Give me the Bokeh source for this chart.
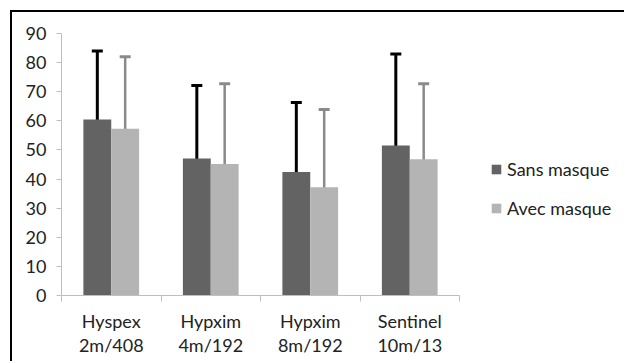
from bokeh.plotting import figure
from bokeh.models import (ColumnDataSource, Range1d, Whisker, Legend,
                          LegendItem, LinearAxis, FixedTicker, TeeHead)
from bokeh.embed import file_html
from bokeh.resources import INLINE

categories = ["Hyspex\n2m/408", "Hypxim\n4m/192", "Hypxim\n8m/192", "Sentinel\n10m/13"]
sans_masque = [60.5, 47.1, 42.4, 51.5]
sans_std = [23.5, 25.0, 23.9, 31.5]
avec_masque = [57.3, 45.2, 37.2, 46.8]
avec_std = [24.7, 27.5, 26.7, 25.9]
y_ticks = [0, 10, 20, 30, 40, 50, 60, 70, 80, 90]

FONT = "Lato"
TXT = "#222222"
DARK = "#636363"
LIGHT = "#b4b4b4"
BW = 0.28

# layout (pixels)
FIG_W, FIG_H = 614, 351
LEFT, TOP, BOTTOM = 49, 21, 68
FRAME_W = FIG_W - LEFT
CAT_PX = 99.5

n = len(categories)
centers = [i + 0.5 for i in range(n)]

src = ColumnDataSource(dict(
    xs=[c - BW / 2 for c in centers],
    xa=[c + BW / 2 for c in centers],
    sans=sans_masque,
    sans_lo=[v - s for v, s in zip(sans_masque, sans_std)],
    sans_hi=[v + s for v, s in zip(sans_masque, sans_std)],
    avec=avec_masque,
    avec_lo=[v - s for v, s in zip(avec_masque, avec_std)],
    avec_hi=[v + s for v, s in zip(avec_masque, avec_std)],
))

p = figure(x_range=Range1d(0, FRAME_W / CAT_PX), y_range=Range1d(0, 90),
           width=FIG_W, height=FIG_H, output_backend="svg", toolbar_location=None,
           x_axis_location=None, y_axis_location=None,
           min_border_left=LEFT, min_border_right=0, min_border_top=TOP,
           min_border_bottom=BOTTOM)
p.outline_line_color = None
p.xgrid.grid_line_color = None
p.ygrid.grid_line_color = None
p.margin = (10, 0, 0, 10)
p.styles = {"border-left": "2px solid black", "border-top": "2px solid black"}

r1 = p.vbar(x="xs", top="sans", width=BW, source=src, fill_color=DARK, line_color=None)
r2 = p.vbar(x="xa", top="avec", width=BW, source=src, fill_color=LIGHT, line_color=None)

w1 = Whisker(base="xs", lower="sans_lo", upper="sans_hi",
             source=src, line_color="black", line_width=3,
             upper_head=TeeHead(size=11, line_color="black", line_width=3),
             lower_head=TeeHead(size=11, line_color="black", line_width=3))
w2 = Whisker(base="xa", lower="avec_lo", upper="avec_hi",
             source=src, line_color="#8a8a8a", line_width=2.5,
             upper_head=TeeHead(size=11, line_color="#8a8a8a", line_width=3),
             lower_head=TeeHead(size=11, line_color="#8a8a8a", line_width=3))
p.add_layout(w1)
p.add_layout(w2)

# y axis
yax = LinearAxis(ticker=FixedTicker(ticks=y_ticks))
yax.axis_line_color = "#bfbfbf"
yax.major_tick_line_color = "#bfbfbf"
yax.major_tick_out = 5
yax.major_tick_in = 0
yax.minor_tick_line_color = None
yax.major_label_text_font = FONT
yax.major_label_text_font_size = "18px"
yax.major_label_text_color = TXT
yax.major_label_standoff = 10
p.add_layout(yax, "left")

# boundary ticks axis
bax = LinearAxis(ticker=FixedTicker(ticks=list(range(n + 1))), bounds=(0, n))
bax.axis_line_color = "#bfbfbf"
bax.major_tick_line_color = "#bfbfbf"
bax.major_tick_out = 6
bax.major_tick_in = 0
bax.minor_tick_line_color = None
bax.major_label_text_font_size = "0px"
bax.major_label_standoff = 0
bax.major_label_overrides = {i: "" for i in range(n + 1)}

# category label axis
cax = LinearAxis(ticker=FixedTicker(ticks=centers))
cax.major_label_overrides = {c: lab for c, lab in zip(centers, categories)}
cax.axis_line_color = None
cax.major_tick_line_color = None
cax.minor_tick_line_color = None
cax.major_tick_out = 0
cax.major_tick_in = 0
cax.major_label_text_font = FONT
cax.major_label_text_font_size = "18px"
cax.major_label_text_color = TXT
cax.major_label_text_line_height = 1.1
cax.major_label_standoff = 8
p.below = [bax, cax]

legend = Legend(items=[LegendItem(label="Sans masque", renderers=[r1]),
                       LegendItem(label="Avec masque", renderers=[r2])],
                location=(429, 76), glyph_width=12, glyph_height=12, label_height=20,
                spacing=17, padding=0, margin=0, label_standoff=5,
                border_line_color=None, background_fill_alpha=0,
                label_text_font=FONT, label_text_font_size="18px", label_text_color=TXT)
p.add_layout(legend, "center")

open("out.html", "w").write(file_html(p, INLINE))
